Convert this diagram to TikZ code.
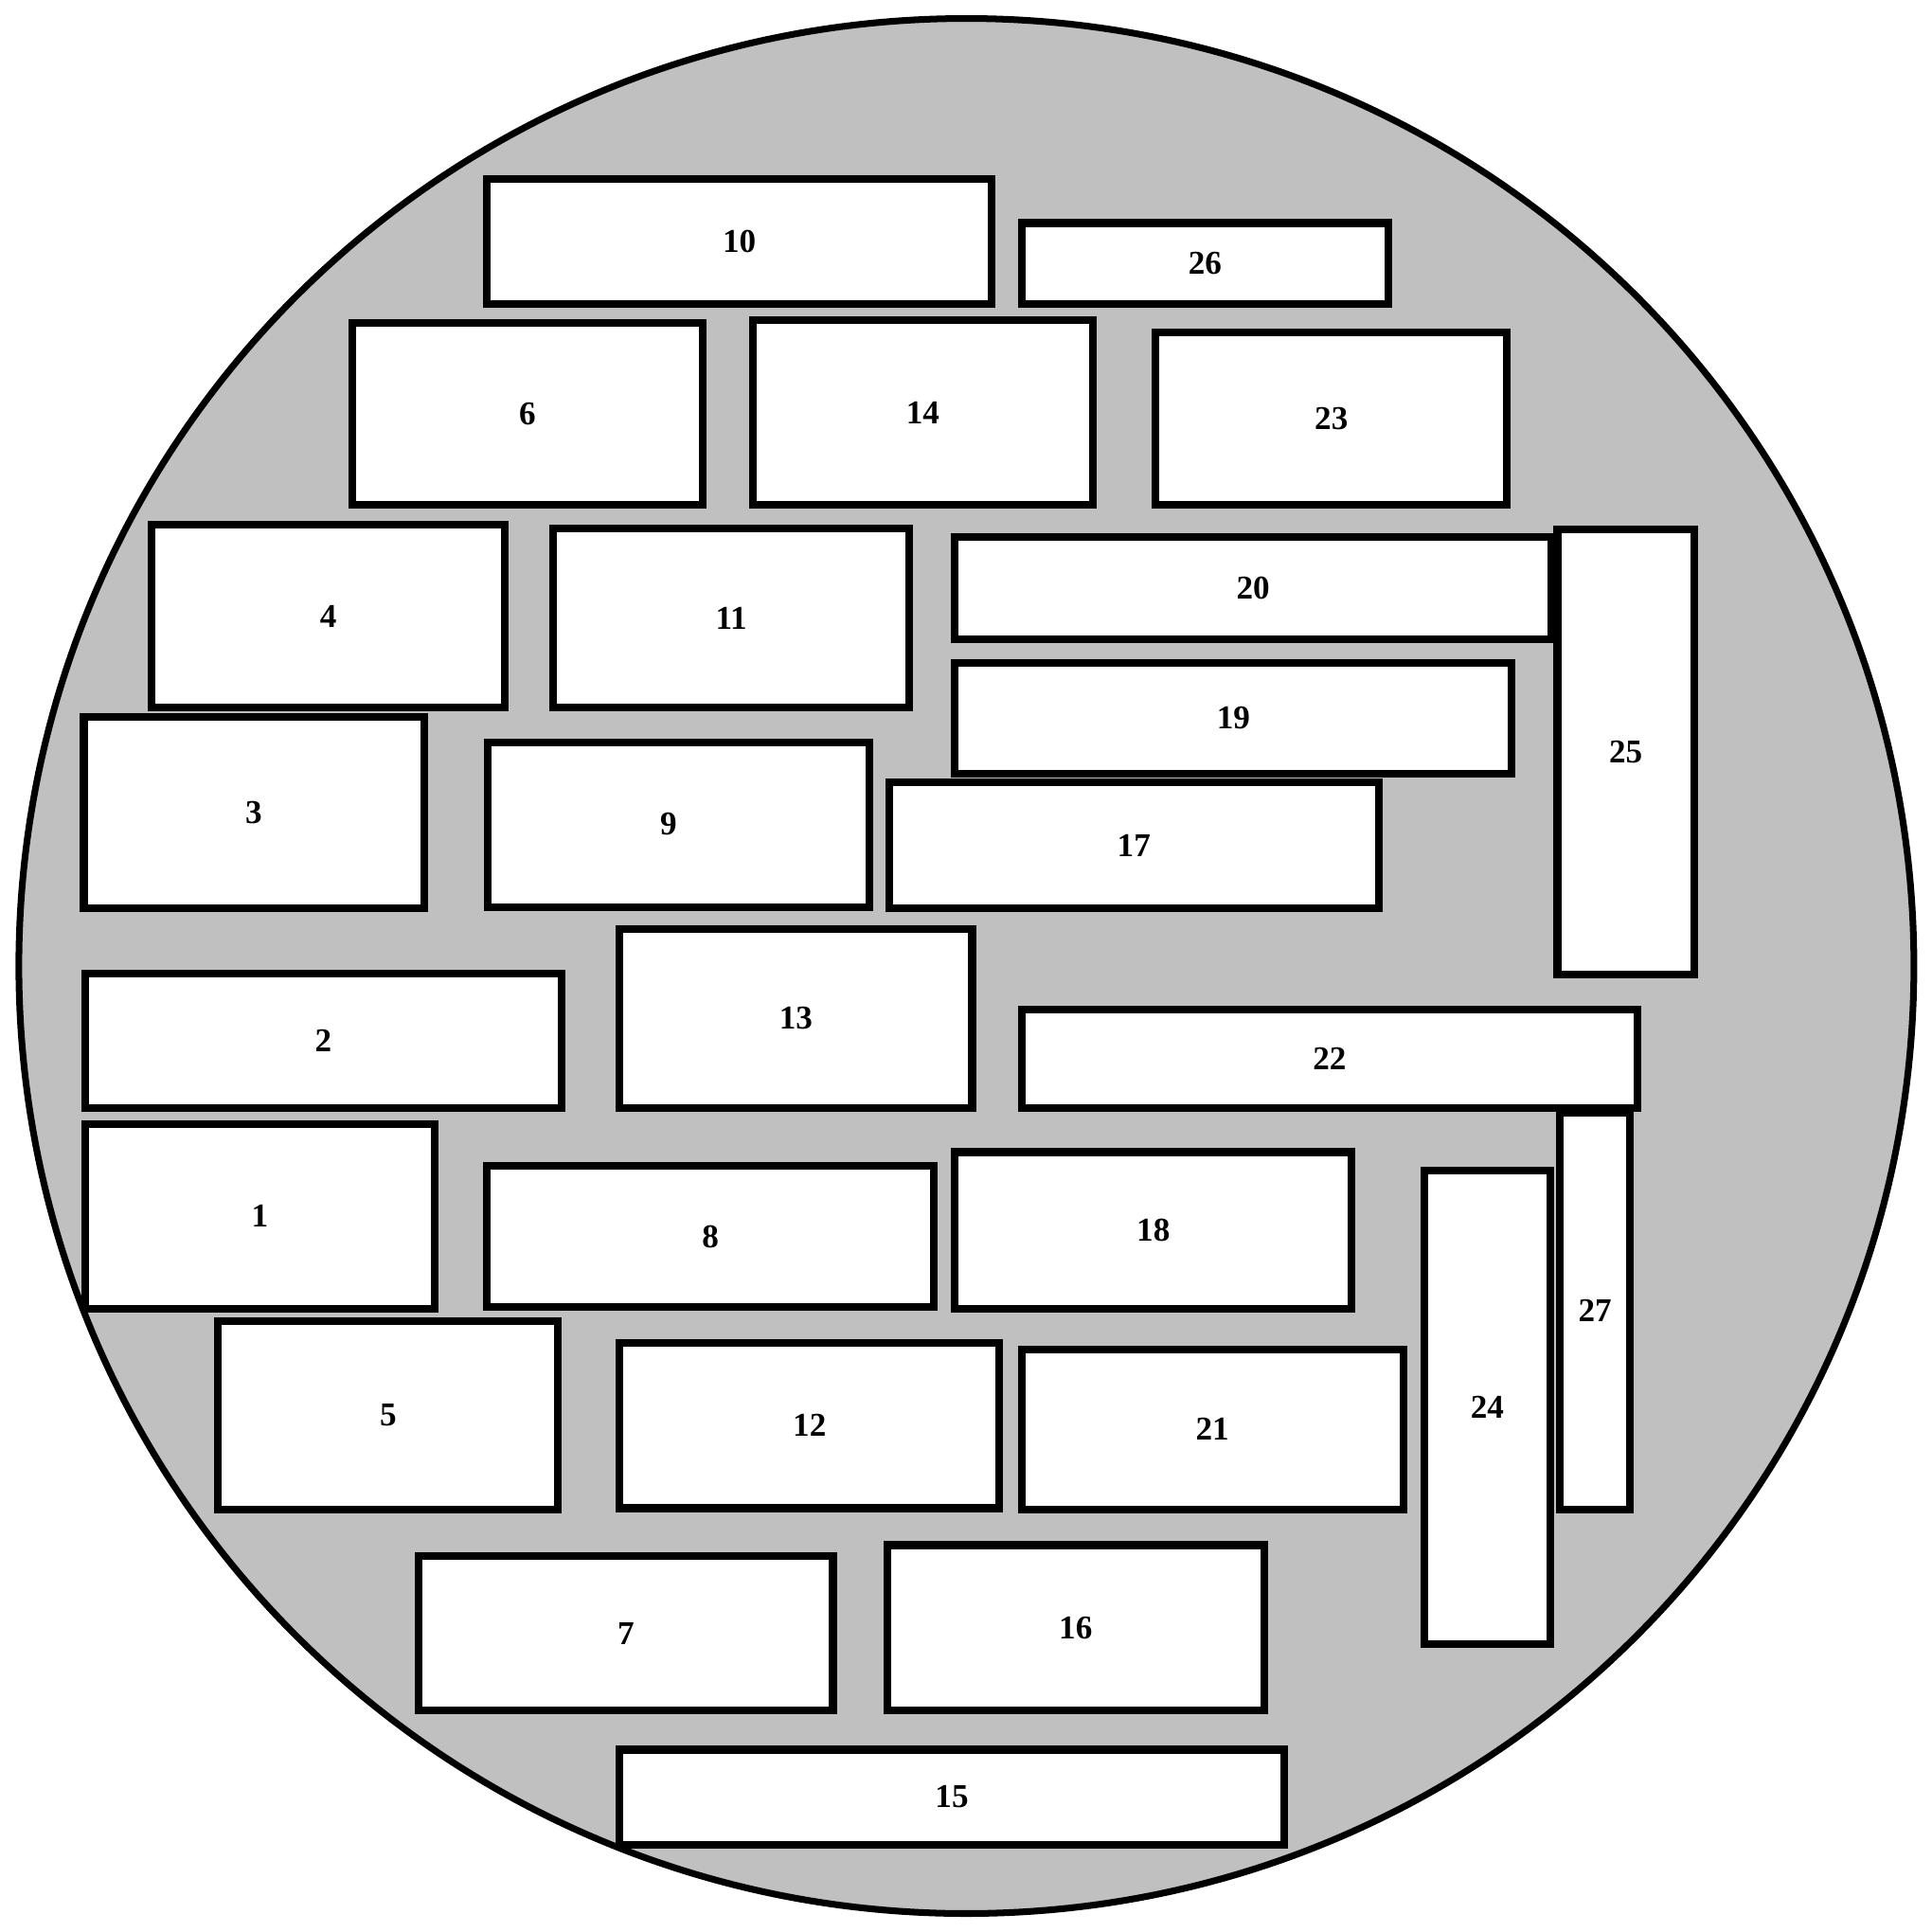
\documentclass[tikz,border=0pt]{standalone}
\usepackage{fontspec}
\setmainfont{Liberation Serif}
\definecolor{disk}{HTML}{C0C0C0}
\def\u{0.0130102cm}
\tikzset{
  lbl/.style={font=\fontsize{10}{12}\selectfont\bfseries, inner sep=0pt},
  box/.style={draw=black, fill=white, line width=2.3pt, inner sep=0pt, outer sep=0pt, lbl},
  disknode/.style={draw=black, fill=disk, circle, line width=2pt, inner sep=0pt, outer sep=0pt}
}
\newcommand\bx[6]{\node[box, minimum width={(#4-#2)*\u}, minimum height={(#5-#3)*\u}] (b#1) at ({(#2+#4)/2},{(#3+#5)/2}) {#6};}
\begin{document}
\begin{tikzpicture}[x=\u, y=-\u]
\useasboundingbox (0,0) rectangle (1568,1568);
\node[disknode, minimum size={1538*\u}] (plate) at (784.3,784) {};
\bx{10}{395}{145}{805}{247}{10}
\bx{26}{829}{181}{1127}{247}{26}
\bx{6}{286}{262}{570}{410}{6}
\bx{14}{611}{260}{887}{410}{14}
\bx{23}{938}{270}{1223}{410}{23}
\bx{4}{123}{426}{410}{574}{4}
\bx{11}{449}{429}{738}{574}{11}
\bx{20}{775}{436}{1259}{519}{20}
\bx{25}{1264}{430}{1375}{791}{25}
\bx{19}{775}{538}{1227}{628}{19}
\bx{3}{68}{582}{344}{737}{3}
\bx{9}{396}{602.5}{705.5}{736.3}{}
\node[lbl] (t9) at (542.6,669) {9};
\bx{17}{721.5}{635}{1119}{737}{17}
\bx{13}{503}{754}{789}{899}{13}
\bx{2}{69}{790}{456}{899}{2}
\bx{22}{829}{819}{1329}{899}{22}
\bx{1}{69}{912}{353}{1062}{1}
\bx{8}{395}{946}{758}{1061}{8}
\bx{18}{775}{935}{1097}{1062}{18}
\bx{27}{1266}{903}{1323}{1225}{27}
\bx{24}{1156}{950}{1258}{1334}{24}
\bx{5}{177}{1072}{453}{1225}{5}
\bx{12}{503}{1090}{811}{1224}{12}
\bx{21}{829}{1095}{1139}{1225}{21}
\bx{7}{340}{1263}{676}{1388}{7}
\bx{16}{720}{1254}{1026}{1388}{16}
\bx{15}{503}{1420}{1042}{1497}{15}
\end{tikzpicture}
\end{document}
